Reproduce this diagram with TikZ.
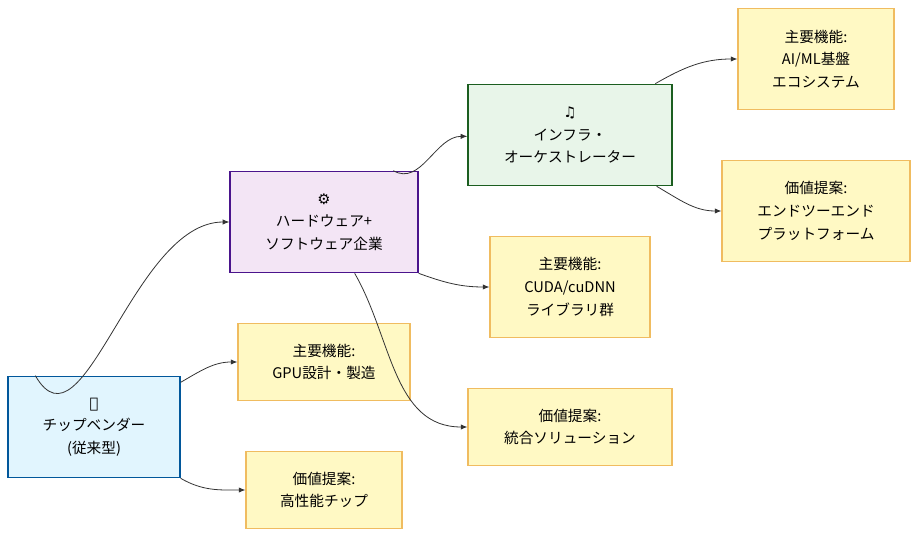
\documentclass[tikz,border=0pt]{standalone}
\usepackage{fontspec}
\setmainfont{Liberation Serif}
\newfontfamily\cjk{Noto Sans CJK JP}
\newfontfamily\sym{DejaVu Sans}
\usetikzlibrary{arrows.meta}
\definecolor{vfill}{HTML}{E1F5FE}\definecolor{vdraw}{HTML}{01579B}
\definecolor{hfill}{HTML}{F3E5F5}\definecolor{hdraw}{HTML}{4A148C}
\definecolor{ifill}{HTML}{E8F5E9}\definecolor{idraw}{HTML}{1B5E20}
\definecolor{nfill}{HTML}{FFF9C4}\definecolor{ndraw}{HTML}{F0BC60}
\tikzset{
  box/.style={draw, line width=1pt, align=center, font=\cjk\fontsize{11}{17}\selectfont, inner sep=0pt},
  note/.style={box, fill=nfill, draw=ndraw, line width=0.8pt},
  link/.style={draw=black!80, line width=0.6pt, -{Latex[length=5pt,width=4pt]}}
}
\begin{document}
\begin{tikzpicture}[x=0.75pt,y=-0.75pt]
    \useasboundingbox (0,0) rectangle (918,538);
    % main blocks
    \node[box, fill=vfill, draw=vdraw, minimum width=129pt, minimum height=76pt] (vendor) at (94,427)
        {{\sym\char"2B1B}\\チップベンダー\\(従来型)};
    \node[box, fill=hfill, draw=hdraw, minimum width=141pt, minimum height=76pt] (hw) at (324,222)
        {{\sym ⚙}\\ハードウェア+\\ソフトウェア企業};
    \node[box, fill=ifill, draw=idraw, minimum width=153pt, minimum height=76pt] (infra) at (570,135)
        {{\sym ♫}\\インフラ・\\オーケストレーター};
    % notes
    \node[note, minimum width=129pt, minimum height=58pt] (f1) at (324,362) {主要機能:\\GPU設計・製造};
    \node[note, minimum width=117pt, minimum height=58pt] (v1) at (324,490) {価値提案:\\高性能チップ};
    \node[note, minimum width=120pt, minimum height=76pt] (f2) at (570,287) {主要機能:\\CUDA/cuDNN\\ライブラリ群};
    \node[note, minimum width=153pt, minimum height=58pt] (v2) at (570,427) {価値提案:\\統合ソリューション};
    \node[note, minimum width=117pt, minimum height=76pt] (f3) at (816,59) {主要機能:\\AI/ML基盤\\エコシステム};
    \node[note, minimum width=141pt, minimum height=76pt] (v3) at (816,211) {価値提案:\\エンドツーエンド\\プラットフォーム};
    % connectors
    \draw[link] ([xshift=21pt]vendor.north west) to[out=-60,in=180] (hw.west);
    \draw[link] ([yshift=-5pt]vendor.north east) to[out=30,in=180] (f1.west);
    \draw[link] (vendor.south east) to[out=-30,in=180] (v1.west);
    \draw[link] ([xshift=-19pt]hw.north east) to[out=-30,in=180] ([yshift=-1pt]infra.west);
    \draw[link] (hw.south east) to[out=-20,in=180] (f2.west);
    \draw[link] ([xshift=23pt]hw.south) to[out=-60,in=180] (v2.west);
    \draw[link] ([xshift=-13pt]infra.north east) to[out=30,in=180] (f3.west);
    \draw[link] ([xshift=-12pt]infra.south east) to[out=-30,in=180] (v3.west);
\end{tikzpicture}
\end{document}
